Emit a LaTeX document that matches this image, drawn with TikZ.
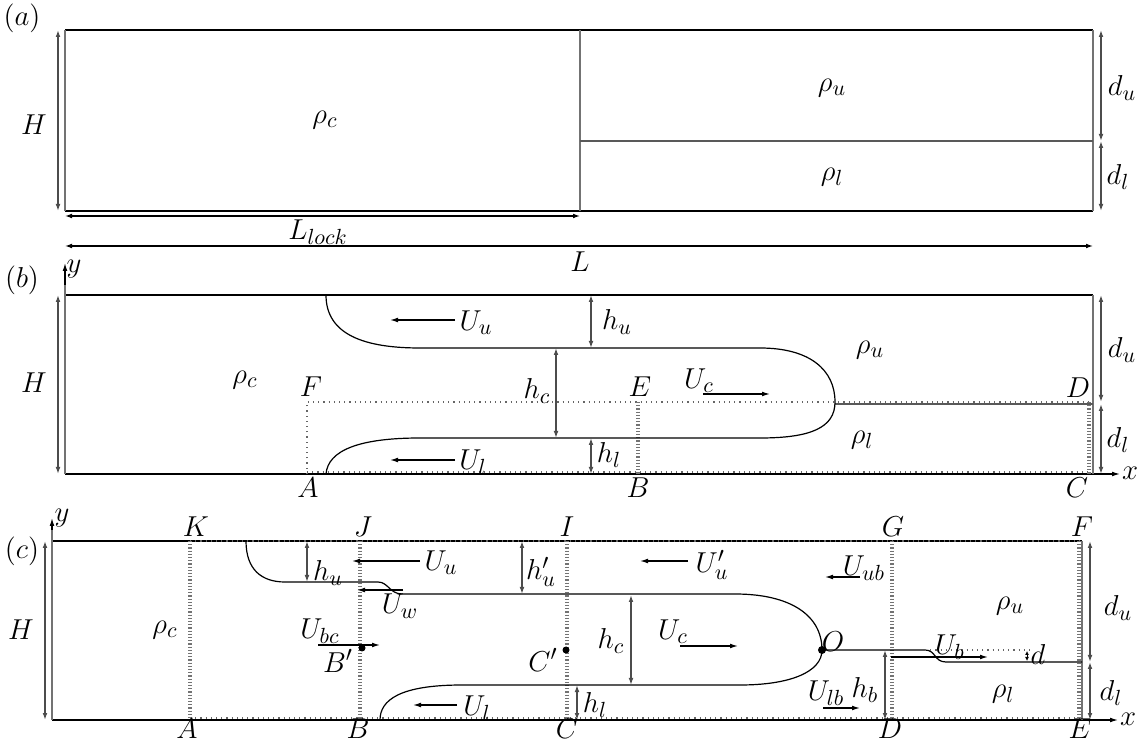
\documentclass[tikz,border=0pt]{standalone}
\usetikzlibrary{arrows.meta}
\DeclareMathSizes{14}{14}{11}{8}
\begin{document}
\begin{tikzpicture}[x=0.5pt,y=-0.5pt,
  every node/.style={inner sep=1pt,font=\fontsize{14}{17}\selectfont},
  frame/.style={black,line width=0.6pt},
  wall/.style={black!55,line width=1.3pt},
  iface/.style={black!65,line width=0.9pt},
  dim/.style={{Latex[length=3.5pt,width=2.4pt]}-{Latex[length=3.5pt,width=2.4pt]},black!70,line width=0.9pt},
  vel/.style={-{Latex[length=4pt,width=2.4pt]},black,line width=0.6pt},
  axis/.style={-{Latex[length=4pt,width=2.4pt]},black,line width=0.6pt},
  dline/.style={dotted,black!60,line width=0.6pt},
  dvline/.style={densely dotted,black!55,line width=0.6pt},
  front/.style={black,line width=0.6pt},
  dot/.style={circle,fill=black,inner sep=0pt,minimum size=4pt}]
\useasboundingbox (0,0) rectangle (1146,742);

% ================= (a) =================
\node (pa) at (22,18) {$(a)$};
\coordinate (aTL) at (65,30); \coordinate (aBL) at (65,211);
\coordinate (aTR) at (1093,30); \coordinate (aBR) at (1093,211);
\coordinate (aGT) at (580,30); \coordinate (aGB) at (580,211);
\coordinate (aIL) at (580,141); \coordinate (aIR) at (1093,141);
\draw[frame] (aTL) -- (aTR);
\draw[frame] (aBL) -- (aBR);
\draw[wall] (aTL) -- (aBL);
\draw[wall] (aTR) -- (aBR);
\draw[wall] (aGT) -- (aGB);
\draw[iface] (aIL) -- (aIR);
\draw[dim] (58,30) -- (58,211);
\node (aH) at (34,125) {$H$};
\draw[dim] (1101,30) -- (1101,141);
\draw[dim] (1101,141) -- (1101,211);
\node (adu) at (1122,88) {$d_u$};
\node (adl) at (1118,177) {$d_l$};
\draw[dim,black,line width=0.6pt] (65,216) -- (580,216);
\draw[dim,black,line width=0.6pt] (65,246) -- (1093,246);
\node (aLl) at (318,232) {$L_{lock}$};
\node (aL) at (580,262) {$L$};
\node (arc) at (325,120) {$\rho_c$};
\node (aru) at (832,88) {$\rho_u$};
\node (arl) at (832,177) {$\rho_l$};

% ================= (b) =================
\node (pb) at (22,280) {$(b)$};
\draw[frame] (65,295) -- (1093,295);
\draw[axis] (65,474) -- (1120,474);
\node (bx) at (1130,473) {$x$};
\draw[wall] (65,474) -- (65,282);
\draw[axis] (65,285) -- (65,263);
\node (by) at (74,269) {$y$};
\draw[wall] (1093,295) -- (1093,474);
% dotted control volume
\draw[dline] (307,474) -- (307,402) -- (1090,402);
\draw[dline] (307,472) -- (1090,472);
\draw[dvline] (637,402) -- (637,474);
\draw[dvline] (639,402) -- (639,474);
\draw[dvline] (1088,402) -- (1088,474);
\draw[dvline] (1090,402) -- (1090,474);
% interface
\draw[iface] (835,404) -- (1093,404);
% current
\draw[front] (326,295) .. controls (326,335) and (365,348) .. (420,348) -- (760,348)
  .. controls (810,348) and (835,370) .. (835,402)
  .. controls (835,428) and (810,438) .. (760,438) -- (420,438)
  .. controls (360,438) and (328,450) .. (326,474);
\draw[dim] (591,295) -- (591,348);
\draw[dim] (556,348) -- (556,438);
\draw[dim] (591,438) -- (591,474);
\node (bhu) at (617,322) {$h_u$};
\node (bhc) at (537,391) {$h_c$};
\node (bhl) at (609,455) {$h_l$};
\draw[vel] (455,320) -- (390,320);
\node (bUu) at (476,323) {$U_u$};
\draw[vel] (455,460) -- (390,460);
\node (bUl) at (473,462) {$U_l$};
\node (bUc) at (699,381) {$U_c$};
\draw[vel] (703,394) -- (770,394);
\draw[dim] (58,295) -- (58,474);
\node (bH) at (34,383) {$H$};
\draw[dim] (1101,295) -- (1101,402);
\draw[dim] (1101,404) -- (1101,474);
\node (bdu) at (1122,350) {$d_u$};
\node (bdl) at (1118,440) {$d_l$};
\node (bF) at (311,387) {$F$};
\node (bE) at (640,387) {$E$};
\node (bD) at (1078,388) {$D$};
\node (bA) at (308,488) {$A$};
\node (bB) at (638,488) {$B$};
\node (bC) at (1077,488) {$C$};
\node (brc) at (245,380) {$\rho_c$};
\node (bru) at (870,350) {$\rho_u$};
\node (brl) at (862,440) {$\rho_l$};

% ================= (c) =================
\node (pc) at (22,551) {$(c)$};
\draw[frame] (52,541) -- (1082,541);
\draw[axis] (52,720) -- (1118,720);
\node (cx) at (1128,719) {$x$};
\draw[wall] (52,720) -- (52,528);
\draw[axis] (52,530) -- (52,518);
\node (cy) at (62,518) {$y$};
\draw[wall] (1082,541) -- (1082,720);
% dotted sections
\draw[dline] (190,541) -- (1082,541);
\draw[dline] (190,718) -- (1082,718);
\foreach \xx in {190,360,567,892,1079}{
  \draw[dvline] (\xx-1,541) -- (\xx-1,720);
  \draw[dvline] (\xx+1,541) -- (\xx+1,720);
}
% current
\draw[front] (246,541) .. controls (246,570) and (262,582) .. (285,582) -- (378,582)
  .. controls (388,582) and (390,594) .. (402,594) -- (735,594)
  .. controls (790,594) and (822,615) .. (822,650)
  .. controls (822,672) and (790,685) .. (740,685) -- (462,685)
  .. controls (400,685) and (380,700) .. (380,720);
% bore / interface
\draw[front] (822,650) -- (925,650) .. controls (936,650) and (934,662) .. (946,662) -- (1082,662);
\draw[dline] (925,650) -- (1030,650);
\draw[{Latex[length=2pt,width=2pt]}-{Latex[length=2pt,width=2pt]},black,line width=0.5pt] (1027,651) -- (1027,661);
\node (cd) at (1038,655) {$d$};
\node[dot] (cO) at (822,650) {};
\node (cOl) at (833,642) {$O$};
% velocity arrows
\draw[vel] (420,561) -- (352,561);
\node (cUu) at (441,563) {$U_u$};
\draw[vel] (403,590) -- (357,590);
\node (cUw) at (400,606) {$U_w$};
\node (cUbc) at (320,631) {$U_{bc}$};
\draw[vel] (318,645) -- (380,645);
\node[dot,minimum size=3.5pt] (cBp) at (362,648) {};
\node (cBpl) at (338,661) {$B'$};
\draw[vel] (688,561) -- (640,561);
\node (cUup) at (712,565) {$U'_u$};
\node (cUc) at (673,632) {$U_c$};
\draw[vel] (680,646) -- (738,646);
\node[dot,minimum size=3.5pt] (cCp) at (566,650) {};
\node (cCpl) at (543,660) {$C'$};
\draw[vel] (457,705) -- (413,705);
\node (cUl) at (477,708) {$U_l$};
\node (cUub) at (864,568) {$U_{ub}$};
\draw[vel] (860,577) -- (825,577);
\node (cUb) at (950,647) {$U_b$};
\draw[vel] (891,657) -- (988,657);
\node (cUlb) at (826,693) {$U_{lb}$};
\draw[vel] (823,708) -- (860,708);
% dimensions
\draw[dim] (307,541) -- (307,582);
\node (chu) at (328,573) {$h_u$};
\draw[dim] (522,541) -- (522,594);
\node (chup) at (541,572) {$h'_u$};
\draw[dim] (631,595) -- (631,685);
\node (chc) at (611,641) {$h_c$};
\draw[dim] (577,685) -- (577,720);
\node (chl) at (595,705) {$h_l$};
\draw[dim] (885,650) -- (885,720);
\node (chb) at (865,690) {$h_b$};
\draw[dim] (45,541) -- (45,720);
\node (cH) at (21,630) {$H$};
\draw[dim] (1090,541) -- (1090,662);
\draw[dim] (1090,662) -- (1090,720);
\node (cdu) at (1118,608) {$d_u$};
\node (cdl) at (1111,693) {$d_l$};
% point labels
\node (cK) at (196,527) {$K$};
\node (cJ) at (363,527) {$J$};
\node (cI) at (567,527) {$I$};
\node (cG) at (893,527) {$G$};
\node (cF) at (1082,527) {$F$};
\node (cA) at (187,729) {$A$};
\node (cB) at (358,729) {$B$};
\node (cC) at (567,729) {$C$};
\node (cD) at (890,729) {$D$};
\node (cE) at (1080,729) {$E$};
\node (crc) at (165,630) {$\rho_c$};
\node (cru) at (1010,606) {$\rho_u$};
\node (crl) at (1003,694) {$\rho_l$};
\end{tikzpicture}
\end{document}
